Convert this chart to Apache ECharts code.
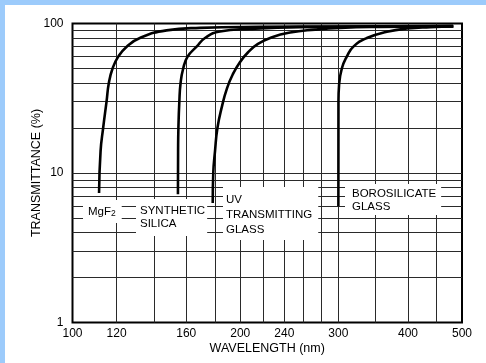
<!DOCTYPE html>
<html><head><meta charset="utf-8">
<script src="https://cdn.jsdelivr.net/npm/echarts@6/dist/echarts.min.js"></script>
<style>
html,body{margin:0;padding:0;background:#fff;overflow:hidden;width:486px;height:363px;}
#sl{position:absolute;left:0;top:0;width:5px;height:363px;background:#9ccbfb;}
#st{position:absolute;left:0;top:0;width:486px;height:5px;background:#9ccbfb;}
#chart{position:absolute;left:0;top:0;width:486px;height:363px;}
</style></head><body>
<div id="sl"></div><div id="st"></div><div id="chart"></div>
<script>
// Axis tick labels and grid lines
const xTickLabels = [100, 120, 160, 200, 240, 300, 400, 500];
const xGridValues = [120, 140, 160, 180, 200, 220, 240, 260, 280, 300, 350, 400, 450];
const yGridValues = [2, 3, 4, 5, 6, 7, 8, 9, 10, 20, 30, 40, 50, 60, 70, 80, 90];

// Curve data: wavelength (nm) and transmittance (%)
const mgf2Wavelength    = [111.6, 112.3, 113.5, 115.1, 116.2, 118.0, 120.8, 125.1, 132.1, 147.5, 169.3, 217, 300, 482];
const mgf2Transmittance = [7.35, 14, 20, 30, 40, 50, 60, 70, 80, 90, 93.5, 95, 95.5, 96];

const silicaWavelength    = [154.6, 154.7, 154.9, 155.5, 156.3, 158.0, 160.9, 167.0, 172.9, 183.9, 208.3, 255.9, 482];
const silicaTransmittance = [7.2, 14, 20, 30, 40, 50, 60, 70, 80, 88.5, 92, 94.5, 96];

const uvWavelength    = [178.5, 178.9, 180.2, 182.0, 185.5, 189.4, 194.1, 199.7, 206.4, 215.2, 228.1, 245.7, 272.5, 302.2, 356.6, 482];
const uvTransmittance = [6.3, 10, 14, 20, 28, 37, 46, 55, 64, 73, 81, 87, 91, 93.5, 95, 96];

const boroWavelength    = [300, 300.1, 300.9, 304.3, 310.6, 319.2, 337.5, 366.6, 398.2, 438.5, 482.8];
const boroTransmittance = [6.0, 30, 39, 50, 60, 70, 80, 88, 92.5, 94.5, 95.5];

const curves = [
  { name: 'MgF2', wl: mgf2Wavelength, t: mgf2Transmittance },
  { name: 'Synthetic silica', wl: silicaWavelength, t: silicaTransmittance },
  { name: 'UV transmitting glass', wl: uvWavelength, t: uvTransmittance },
  { name: 'Borosilicate glass', wl: boroWavelength, t: boroTransmittance }
];

const FONT = '"Liberation Sans", Arial, Helvetica, sans-serif';
const chart = echarts.init(document.getElementById('chart'), null, { renderer: 'canvas' });

const labelBox = (x, y, text, padding, lineHeight, rich) => ({
  type: 'text', x: x, y: y, z: 50,
  style: {
    text: text, fill: '#000',
    fontSize: 11.5, fontFamily: FONT,
    align: 'left', verticalAlign: 'top',
    backgroundColor: '#fff', padding: padding, lineHeight: lineHeight,
    rich: rich
  }
});

const option = {
  animation: false,
  backgroundColor: 'transparent',
  grid: { left: 72.5, top: 23.5, width: 389.5, height: 299, show: true, borderColor: '#000', borderWidth: 2, backgroundColor: 'transparent' },
  xAxis: {
    type: 'log', logBase: 10, min: 100, max: 500,
    name: 'WAVELENGTH (nm)', nameLocation: 'middle', nameGap: 19.5, nameMoveOverlap: false,
    nameTextStyle: { fontFamily: FONT, fontSize: 12.5, color: '#000' },
    axisLine: { show: false }, axisTick: { show: false },
    splitLine: { show: false }, minorSplitLine: { show: false },
    axisLabel: { customValues: xTickLabels, fontFamily: FONT, fontSize: 12, color: '#000', margin: 5, formatter: v => String(Math.round(v)) }
  },
  yAxis: {
    type: 'log', logBase: 10, min: 1, max: 100,
    name: 'TRANSMITTANCE (%)', nameLocation: 'middle', nameGap: 29, nameMoveOverlap: false,
    nameTextStyle: { fontFamily: FONT, fontSize: 12.5, color: '#000' },
    axisLine: { show: false }, axisTick: { show: false },
    splitLine: { show: false }, minorSplitLine: { show: false },
    axisLabel: { fontFamily: FONT, fontSize: 12, color: '#000', margin: 9, formatter: v => String(Math.round(v)) }
  },
  series: [
    {
      type: 'line', data: [], silent: true, z: 1,
      markLine: {
        silent: true, symbol: ['none', 'none'], label: { show: false },
        lineStyle: { color: '#2a2a2a', width: 1, type: 'solid' },
        emphasis: { disabled: true },
        data: xGridValues.map(v => ({ xAxis: v })).concat(yGridValues.map(v => ({ yAxis: v })))
      }
    }
  ].concat(curves.map(c => ({
    type: 'line', name: c.name, z: 5,
    data: c.wl.map((w, i) => [w, c.t[i]]),
    symbol: 'none', showSymbol: false, smooth: 0.5,
    lineStyle: { color: '#000', width: 2.6 }
  }))),
  graphic: [
    labelBox(83, 200, '{a|MgF}{s|2}', [5, 6, 5, 5], 13, {
      a: { fontSize: 11.5, fontFamily: FONT, fill: '#000', lineHeight: 13 },
      s: { fontSize: 8.5, fontFamily: FONT, fill: '#000', verticalAlign: 'bottom', lineHeight: 10 }
    }),
    labelBox(136, 199, 'SYNTHETIC\nSILICA', [5, 2, 6, 4], 13),
    labelBox(223, 187, 'UV\nTRANSMITTING\nGLASS', [5, 6, 3, 3], 15),
    labelBox(345, 184, 'BOROSILICATE\nGLASS', [3, 5, 2, 7], 13)
  ]
};
chart.setOption(option);
</script>
</body></html>
